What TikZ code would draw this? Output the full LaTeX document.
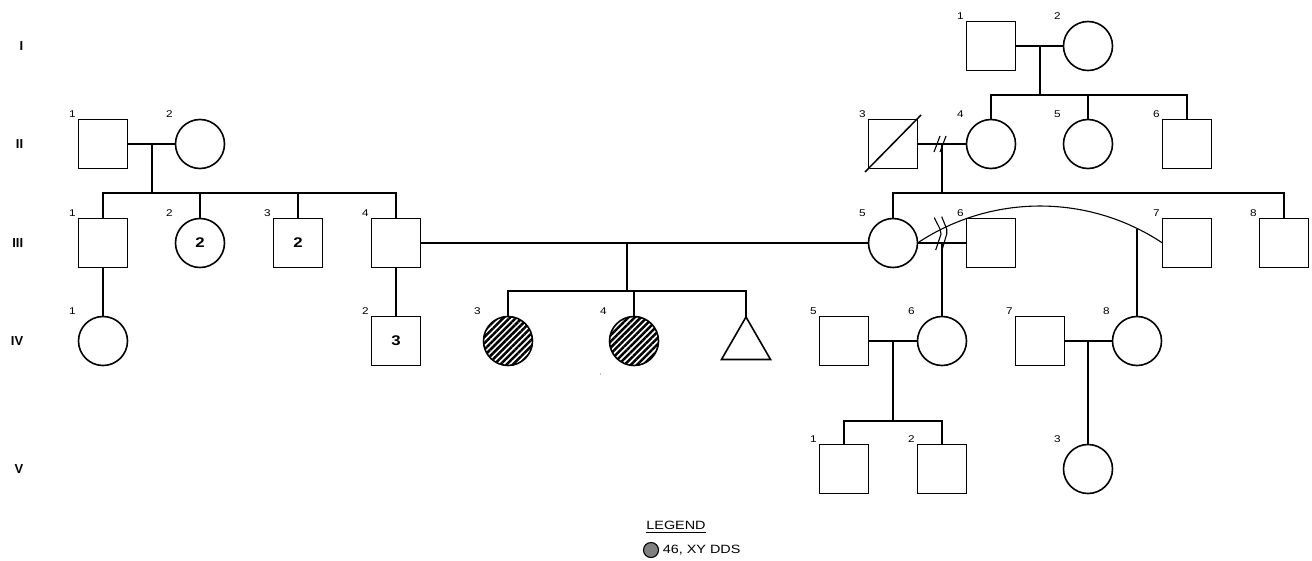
\documentclass[tikz,border=0pt]{standalone}
\usepackage{fontspec}
\newfontfamily\pedfont{Liberation Sans}[FakeStretch=1.2]
\newfontfamily\genfont{Liberation Sans}
\usetikzlibrary{shapes.geometric,patterns.meta,calc}

\begin{document}
\begin{tikzpicture}[x=1pt,y=-1pt,
  line width=1.6pt,
  sym/.style={draw, inner sep=0pt, outer sep=0pt, line width=1.6pt},
  male/.style={sym, rectangle, minimum size=49pt},
  female/.style={sym, circle, minimum size=49pt},
  affected/.style={female, pattern={Lines[angle=45,distance=4.4pt,line width=2.5pt]}},
  unknown/.style={sym, regular polygon, regular polygon sides=3, minimum size=56.6pt},
  inner/.style={font=\pedfont\fontsize{14}{16}\selectfont\bfseries},
  num/.style={font=\pedfont\fontsize{9.8}{11}\selectfont, inner sep=0pt},
  gen/.style={font=\genfont\fontsize{13}{15}\selectfont\bfseries, anchor=east, inner sep=0pt},
  legtext/.style={font=\pedfont\fontsize{12}{14}\selectfont, inner sep=0pt},
  thin/.style={line width=1.1pt}
]
\useasboundingbox (0,0) rectangle (1312,560);

% generation numerals
\node[gen] (gI)   at (24,46)  {I};
\node[gen] (gII)  at (24,144) {II};
\node[gen] (gIII) at (24,243) {III};
\node[gen] (gIV)  at (24,341) {IV};
\node[gen] (gV)   at (24,469) {V};

% generation I
\node[male]   (I1) at (991,46)  {};
\node[female] (I2) at (1088,46) {};

% generation II
\node[male]   (II1) at (103,144)  {};
\node[female] (II2) at (200,144)  {};
\node[male]   (II3) at (893,144)  {};
\node[female] (II4) at (991,144)  {};
\node[female] (II5) at (1088,144) {};
\node[male]   (II6) at (1187,144) {};
\draw[line width=1.5pt] ($(II3.south west)+(-3.5,3.5)$) -- ($(II3.north east)+(3.5,-4.5)$);

% generation III
\node[male]   (III1) at (103,243)  {};
\node[female] (III2) at (200,243)  {};
\node[male]   (III3) at (298,243)  {};
\node[male]   (III4) at (396,243)  {};
\node[female] (III5) at (893,243)  {};
\node[male]   (III6) at (991,243)  {};
\node[male]   (III7) at (1187,243) {};
\node[male]   (III8) at (1284,243) {};
\node[inner] (nIII2) at (III2) {2};
\node[inner] (nIII3) at (III3) {2};

% generation IV
\node[female]   (IV1) at (103,341)  {};
\node[male]     (IV2) at (396,341)  {};
\node[affected] (IV3) at (508,341)  {};
\node[affected] (IV4) at (634,341)  {};
\node[unknown]  (IVt) at (746,345.3) {};
\node[male]     (IV5) at (844,341)  {};
\node[female]   (IV6) at (942,341)  {};
\node[male]     (IV7) at (1040,341) {};
\node[female]   (IV8) at (1137,341) {};
\node[inner] (nIV2) at (IV2) {3};

% generation V
\node[male]   (V1) at (844,469)  {};
\node[male]   (V2) at (942,469)  {};
\node[female] (V3) at (1088,469) {};

% individual numbers
\foreach \p/\t in {I1/1, I2/2,
    II1/1, II2/2, II3/3, II4/4, II5/5, II6/6,
    III1/1, III2/2, III3/3, III4/4, III5/5, III6/6, III7/7, III8/8,
    IV1/1, IV2/2, IV3/3, IV4/4, IV5/5, IV6/6, IV7/7, IV8/8,
    V1/1, V2/2, V3/3}
  \node[num] (lab\p) at ($(\p.west |- \p.north)+(-6,-5.5)$) {\t};

% I-1 x I-2 and their children
\draw (I1.east) -- (I2.west);
\coordinate (dI) at (1040,46);
\coordinate (sII) at (1040,95);
\draw (dI) -- (sII);
\draw (II4.north) -- (II4.north |- sII) -- (II6.north |- sII) -- (II6.north);
\draw (II5.north) -- (II5.north |- sII);

% II-1 x II-2 and their children
\draw (II1.east) -- (II2.west);
\coordinate (dIIa) at (152,144);
\coordinate (sIIIa) at (152,193);
\draw (dIIa) -- (sIIIa);
\draw (III1.north) -- (III1.north |- sIIIa) -- (III4.north |- sIIIa) -- (III4.north);
\draw (III2.north) -- (III2.north |- sIIIa);
\draw (III3.north) -- (III3.north |- sIIIa);

% II-3 x II-4 (separated) and their children
\draw (II3.east) -- (II4.west);
\coordinate (dIIb) at (942,144);
\draw[thin] ($(dIIb)+(-8,8)$) -- ($(dIIb)+(-2,-8)$);
\draw[thin] ($(dIIb)+(-2,8)$) -- ($(dIIb)+(4,-8)$);
\coordinate (sIIIb) at (942,193);
\draw (dIIb) -- (sIIIb);
\draw (III5.north) -- (III5.north |- sIIIb) -- (III8.north |- sIIIb) -- (III8.north);

% III-1 and III-4 lines of descent
\draw (III1.south) -- (IV1.north);
\draw (III4.south) -- (IV2.north);

% III-4 x III-5 and their children
\draw (III4.east) -- (III5.west);
\coordinate (sIV) at (627,291);
\draw (sIV |- III4.east) -- (sIV);
\draw (IV3.north) -- (IV3.north |- sIV) -- (IVt.corner 1 |- sIV) -- (IVt.corner 1);
\draw (IV4.north) -- (IV4.north |- sIV);

% III-5 x III-6 (separated) and their child
\draw (III5.east) -- (III6.west);
\coordinate (dIIIb) at (942,243);
\draw (dIIIb) -- (IV6.north);

% III-5 x III-7 and their child
\draw[thin] (III5.east) .. controls +(74,-49.3) and +(-74,-49.3) .. (III7.west)
  coordinate[pos=0.89] (arcdrop);
\draw (IV8.north |- arcdrop) -- (IV8.north);

% separation marks across both unions of III-5
\draw[thin] ($(dIIIb)+(-7.7,-25.3)$) -- ($(dIIIb)+(-2,-14)$) -- ($(dIIIb)+(-1,-9)$) -- ($(dIIIb)+(-6.3,7)$);
\draw[thin] ($(dIIIb)+(-0.3,-26.3)$) -- ($(dIIIb)+(4.7,-14)$) -- ($(dIIIb)+(4.7,-9)$) -- ($(dIIIb)+(0.3,6)$);

% IV-5 x IV-6 and their children
\draw (IV5.east) -- (IV6.west);
\coordinate (dIVa) at (893,341);
\coordinate (sV) at (893,421);
\draw (dIVa) -- (sV);
\draw (V1.north) -- (V1.north |- sV) -- (V2.north |- sV) -- (V2.north);

% IV-7 x IV-8 and their child
\draw (IV7.east) -- (IV8.west);
\coordinate (dIVb) at (1088,341);
\draw (dIVb) -- (V3.north);

% small speck below the sibship
\fill[gray] (600.5,374) circle[radius=0.7];

% legend
\node[legtext] (leg) at (676,525) {LEGEND};
\draw[line width=1.2pt] ([yshift=-3.5pt]leg.base west) -- ([yshift=-3.5pt]leg.base east);
\node[draw, circle, minimum size=15pt, inner sep=0pt, fill=black!50, line width=1.1pt] (legsym) at (651,550) {};
\node[legtext, anchor=west] (legtxt) at (662,550) {46, XY DDS};
\end{tikzpicture}
\end{document}
